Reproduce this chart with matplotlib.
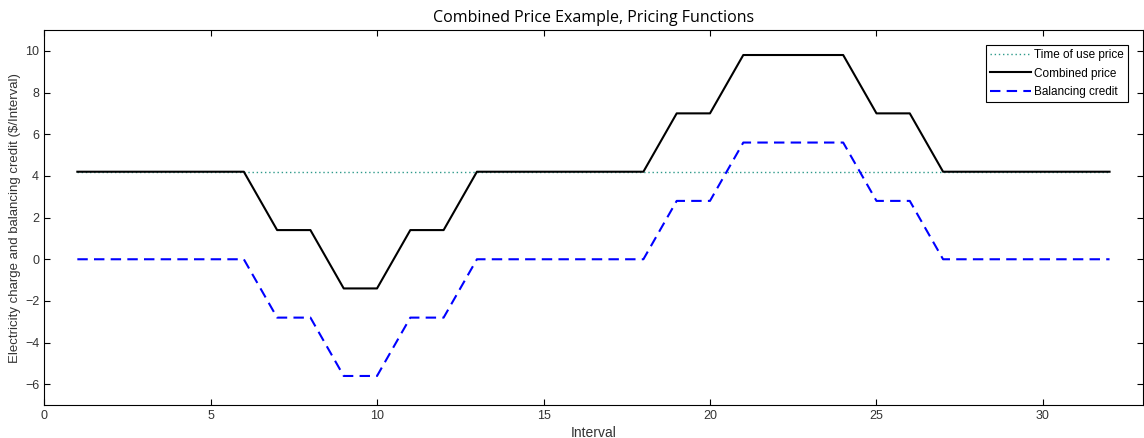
import matplotlib
matplotlib.use("Agg")
import matplotlib.pyplot as plt
import numpy as np

# Interval index and pricing functions
intervals = np.arange(1, 33)
time_of_use = [4.2] * 32
combined = [4.2, 4.2, 4.2, 4.2, 4.2, 4.2, 1.4, 1.4, -1.4, -1.4, 1.4, 1.4,
            4.2, 4.2, 4.2, 4.2, 4.2, 4.2, 7.0, 7.0, 9.8, 9.8, 9.8, 9.8,
            7.0, 7.0, 4.2, 4.2, 4.2, 4.2, 4.2, 4.2]
balancing = [0.0, 0.0, 0.0, 0.0, 0.0, 0.0, -2.8, -2.8, -5.6, -5.6, -2.8, -2.8,
             0.0, 0.0, 0.0, 0.0, 0.0, 0.0, 2.8, 2.8, 5.6, 5.6, 5.6, 5.6,
             2.8, 2.8, 0.0, 0.0, 0.0, 0.0, 0.0, 0.0]

plt.rcParams["font.family"] = ["Liberation Sans", "DejaVu Sans"]

fig = plt.figure(figsize=(11.44, 4.38), dpi=100)
ax = fig.add_axes([0.0385, 0.075, 0.9605, 0.8565])

ax.plot(intervals, time_of_use, color="#2e9a8a", ls=(0, (1, 2)), lw=1.0, label="Time of use price")
ax.plot(intervals, combined, color="black", lw=1.5, label="Combined price")
ax.plot(intervals, balancing, color="blue", ls=(0, (5, 3)), lw=1.5, label="Balancing credit")

ax.set_xlim(0, 33)
ax.set_ylim(-7, 11)
ax.set_xticks(np.arange(0, 31, 5))
ax.set_yticks(np.arange(-6, 11, 2))
ax.tick_params(direction="in", top=True, right=True, labelsize=9, length=4,
               labelcolor="#333333")
ax.set_xlabel("Interval", fontsize=10, labelpad=3, color="#333333")
ax.set_ylabel("Electricity charge and balancing credit ($/Interval)", fontsize=9.5,
              labelpad=3, color="#333333")
ax.set_title("Combined Price Example, Pricing Functions", fontsize=11.5,
             family=["Open Sans", "DejaVu Sans"], pad=6)

leg = ax.legend(loc="upper right", bbox_to_anchor=(0.9915, 0.976), fontsize=8.5,
                fancybox=False, framealpha=1, edgecolor="black", handlelength=3.5,
                borderpad=0.35, labelspacing=0.55, handletextpad=0.2)
leg.get_frame().set_linewidth(0.8)

fig.savefig("out.png", dpi=100)
